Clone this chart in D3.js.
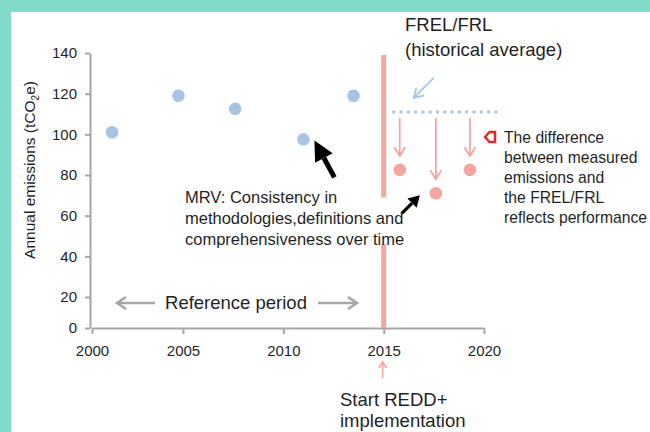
<!DOCTYPE html>
<meta charset="utf-8">
<style>
html, body { margin: 0; padding: 0; overflow: hidden; background: #ffffff; }
svg { display: block; }
.label {
    font-family: "Liberation Sans", Arial, sans-serif;
    fill: #1f1f1f;
}
</style>
<body>
<script src="https://d3js.org/d3.v7.min.js"></script>
<script>

// emissions during the reference period
var refYears  = [2001.1, 2004.75, 2007.6, 2011.0, 2013.5];
var refValues = [101, 119, 112.5, 97.5, 119];

// emissions after REDD+ start
var implYears  = [2015.8, 2017.6, 2019.3];
var implValues = [82.5, 71, 82.5];

// historical average (FREL/FRL)
var frelValue = 111;
var frelYears = [2015.5, 2020.6];

var startYear = 2015;
var startBarSpans = [[139, 69], [46, 0]];

var xTicks = [2000, 2005, 2010, 2015, 2020];
var yTicks = [0, 20, 40, 60, 80, 100, 120, 140];

var width = 650, height = 432;

var blue = "#a8c4e4", pink = "#f4a7a1", grey = "#a6a6a6";

// the original axes are squeezed between the first two ticks
var x = d3.scaleLinear().domain([2000, 2005, 2020]).range([92, 183, 484]);
var y = d3.scaleLinear().domain([0, 20, 140]).range([328, 297, 53]);

var svg = d3.select("body").append("svg")
    .attr("width", width)
    .attr("height", height);

// teal frame only on the top and left
svg.append("rect")
    .attr("width", width).attr("height", 12)
    .style("fill", "#80dbc9");
svg.append("rect")
    .attr("width", 11).attr("height", height)
    .style("fill", "#80dbc9");

// draws a line with an arrow head at (x2,y2)
function arrow(x1, y1, x2, y2, o) {
  var a = Math.atan2(y2 - y1, x2 - x1),
      L = o.len, W = o.half;
  var bx = x2 - L * Math.cos(a), by = y2 - L * Math.sin(a);
  var p1 = [bx + W * Math.sin(a), by - W * Math.cos(a)],
      p2 = [bx - W * Math.sin(a), by + W * Math.cos(a)];
  var g = svg.append("g");
  g.append("line")
    .attr("x1", x1).attr("y1", y1)
    .attr("x2", o.filled ? bx : x2).attr("y2", o.filled ? by : y2)
    .style("stroke", o.color).style("stroke-width", o.w);
  if (o.filled) {
    g.append("path")
      .attr("d", "M" + x2 + "," + y2 + "L" + p1 + "L" + p2 + "Z")
      .style("fill", o.color);
  } else {
    g.append("path")
      .attr("d", "M" + p1 + "L" + x2 + "," + y2 + "L" + p2)
      .style("fill", "none")
      .style("stroke", o.color).style("stroke-width", o.w);
  }
}

// axes
var yAxis = svg.append("g")
    .attr("transform", "translate(90,0)")
    .call(d3.axisLeft(y).tickValues(yTicks).tickSize(5).tickPadding(8).tickSizeOuter(0));

var xAxis = svg.append("g")
    .attr("transform", "translate(0,328)")
    .call(d3.axisBottom(x).tickValues(xTicks).tickFormat(d3.format("d"))
      .tickSize(6).tickPadding(11).tickSizeOuter(0));

[yAxis, xAxis].forEach(function(g) {
  g.attr("font-size", 15).attr("font-family", "Liberation Sans, Arial, sans-serif");
  g.selectAll("path, line").attr("stroke", grey).attr("stroke-width", 2);
  g.selectAll("text").attr("fill", "#1f1f1f").attr("font-size", 15);
});

// y title
var yt = svg.append("text")
    .attr("class", "label")
    .attr("transform", "translate(35,170) rotate(-90)")
    .style("text-anchor", "middle")
    .style("font-size", "15.5px");
yt.append("tspan").text("Annual emissions (tCO");
yt.append("tspan").text("2").style("font-size", "10px").attr("dy", 4);
yt.append("tspan").text("e)").attr("dy", -4);

// REDD+ start bar
svg.selectAll(".startbar")
    .data(startBarSpans)
  .enter().append("rect")
    .attr("class", "startbar")
    .attr("x", x(startYear) - 2.5)
    .attr("width", 5)
    .attr("y", function(d) { return y(d[0]); })
    .attr("height", function(d) { return y(d[1]) - y(d[0]); })
    .style("fill", pink);

// FREL dotted line
svg.append("line")
    .attr("x1", x(frelYears[0])).attr("x2", x(frelYears[1]))
    .attr("y1", y(frelValue)).attr("y2", y(frelValue))
    .style("stroke", blue)
    .style("stroke-width", 3.4)
    .style("stroke-linecap", "round")
    .style("stroke-dasharray", "0 7.3");

// difference arrows
implYears.forEach(function(yr, i) {
  arrow(x(yr), y(frelValue) + 6, x(yr), y(implValues[i]) - 14,
    {color: pink, w: 1.8, len: 9, half: 5.5});
});

// points
svg.selectAll(".ref")
    .data(refYears)
  .enter().append("circle")
    .attr("class", "ref")
    .attr("cx", function(d) { return x(d); })
    .attr("cy", function(d, i) { return y(refValues[i]); })
    .attr("r", 6.3)
    .style("fill", blue);

svg.selectAll(".impl")
    .data(implYears)
  .enter().append("circle")
    .attr("class", "impl")
    .attr("cx", function(d) { return x(d); })
    .attr("cy", function(d, i) { return y(implValues[i]); })
    .attr("r", 6.3)
    .style("fill", pink);

// annotation arrows
var fx = x(frelYears[0]), fy = y(frelValue);
arrow(fx + 40, fy - 34, fx + 20, fy - 14, {color: blue, w: 1.8, len: 9, half: 5.5});

var mx = x(refYears[3]) + 11, my = y(refValues[3]) + 1;
arrow(mx + 20, my + 37, mx, my, {color: "#000", w: 5, len: 20, half: 10, filled: true});

var nx = x(implYears[1]) - 16, ny = y(implValues[1]) + 2;
arrow(nx - 18, ny + 18, nx, ny, {color: "#000", w: 3.2, len: 11, half: 6.5, filled: true});

// reference period arrows
arrow(155, 303, 117, 303, {color: grey, w: 2.5, len: 9, half: 6});
arrow(318, 303, 357, 303, {color: grey, w: 2.5, len: 9, half: 6});

// small arrow under 2015
arrow(x(startYear) - 1, 378, x(startYear) - 1, 362, {color: pink, w: 1.6, len: 6, half: 4});

// red outline marker
svg.append("path")
    .attr("d", "M485,137L489.5,132L495,132L495,142L489.5,142Z")
    .style("fill", "#fff")
    .style("stroke", "#e0282a")
    .style("stroke-width", 2.5)
    .style("stroke-linejoin", "miter");

// texts
function lines(xp, y0, dy, size, arr, anchor) {
  arr.forEach(function(t, i) {
    svg.append("text")
      .attr("class", "label")
      .attr("x", xp).attr("y", y0 + i * dy)
      .style("font-size", size + "px")
      .style("text-anchor", anchor || "start")
      .text(t);
  });
}

lines(405, 31, 25, 18.5, ["FREL/FRL", "(historical average)"]);
lines(236, 309, 0, 18.5, ["Reference period"], "middle");
lines(185, 203, 21, 16.5, ["MRV: Consistency in", "methodologies,definitions and", "comprehensiveness over time"]);
lines(504, 143, 20, 15.7, ["The difference", "between measured", "emissions and", "the FREL/FRL", "reflects performance"]);
lines(340, 406, 20.5, 18.5, ["Start REDD+", "implementation"]);

</script>
</body>
